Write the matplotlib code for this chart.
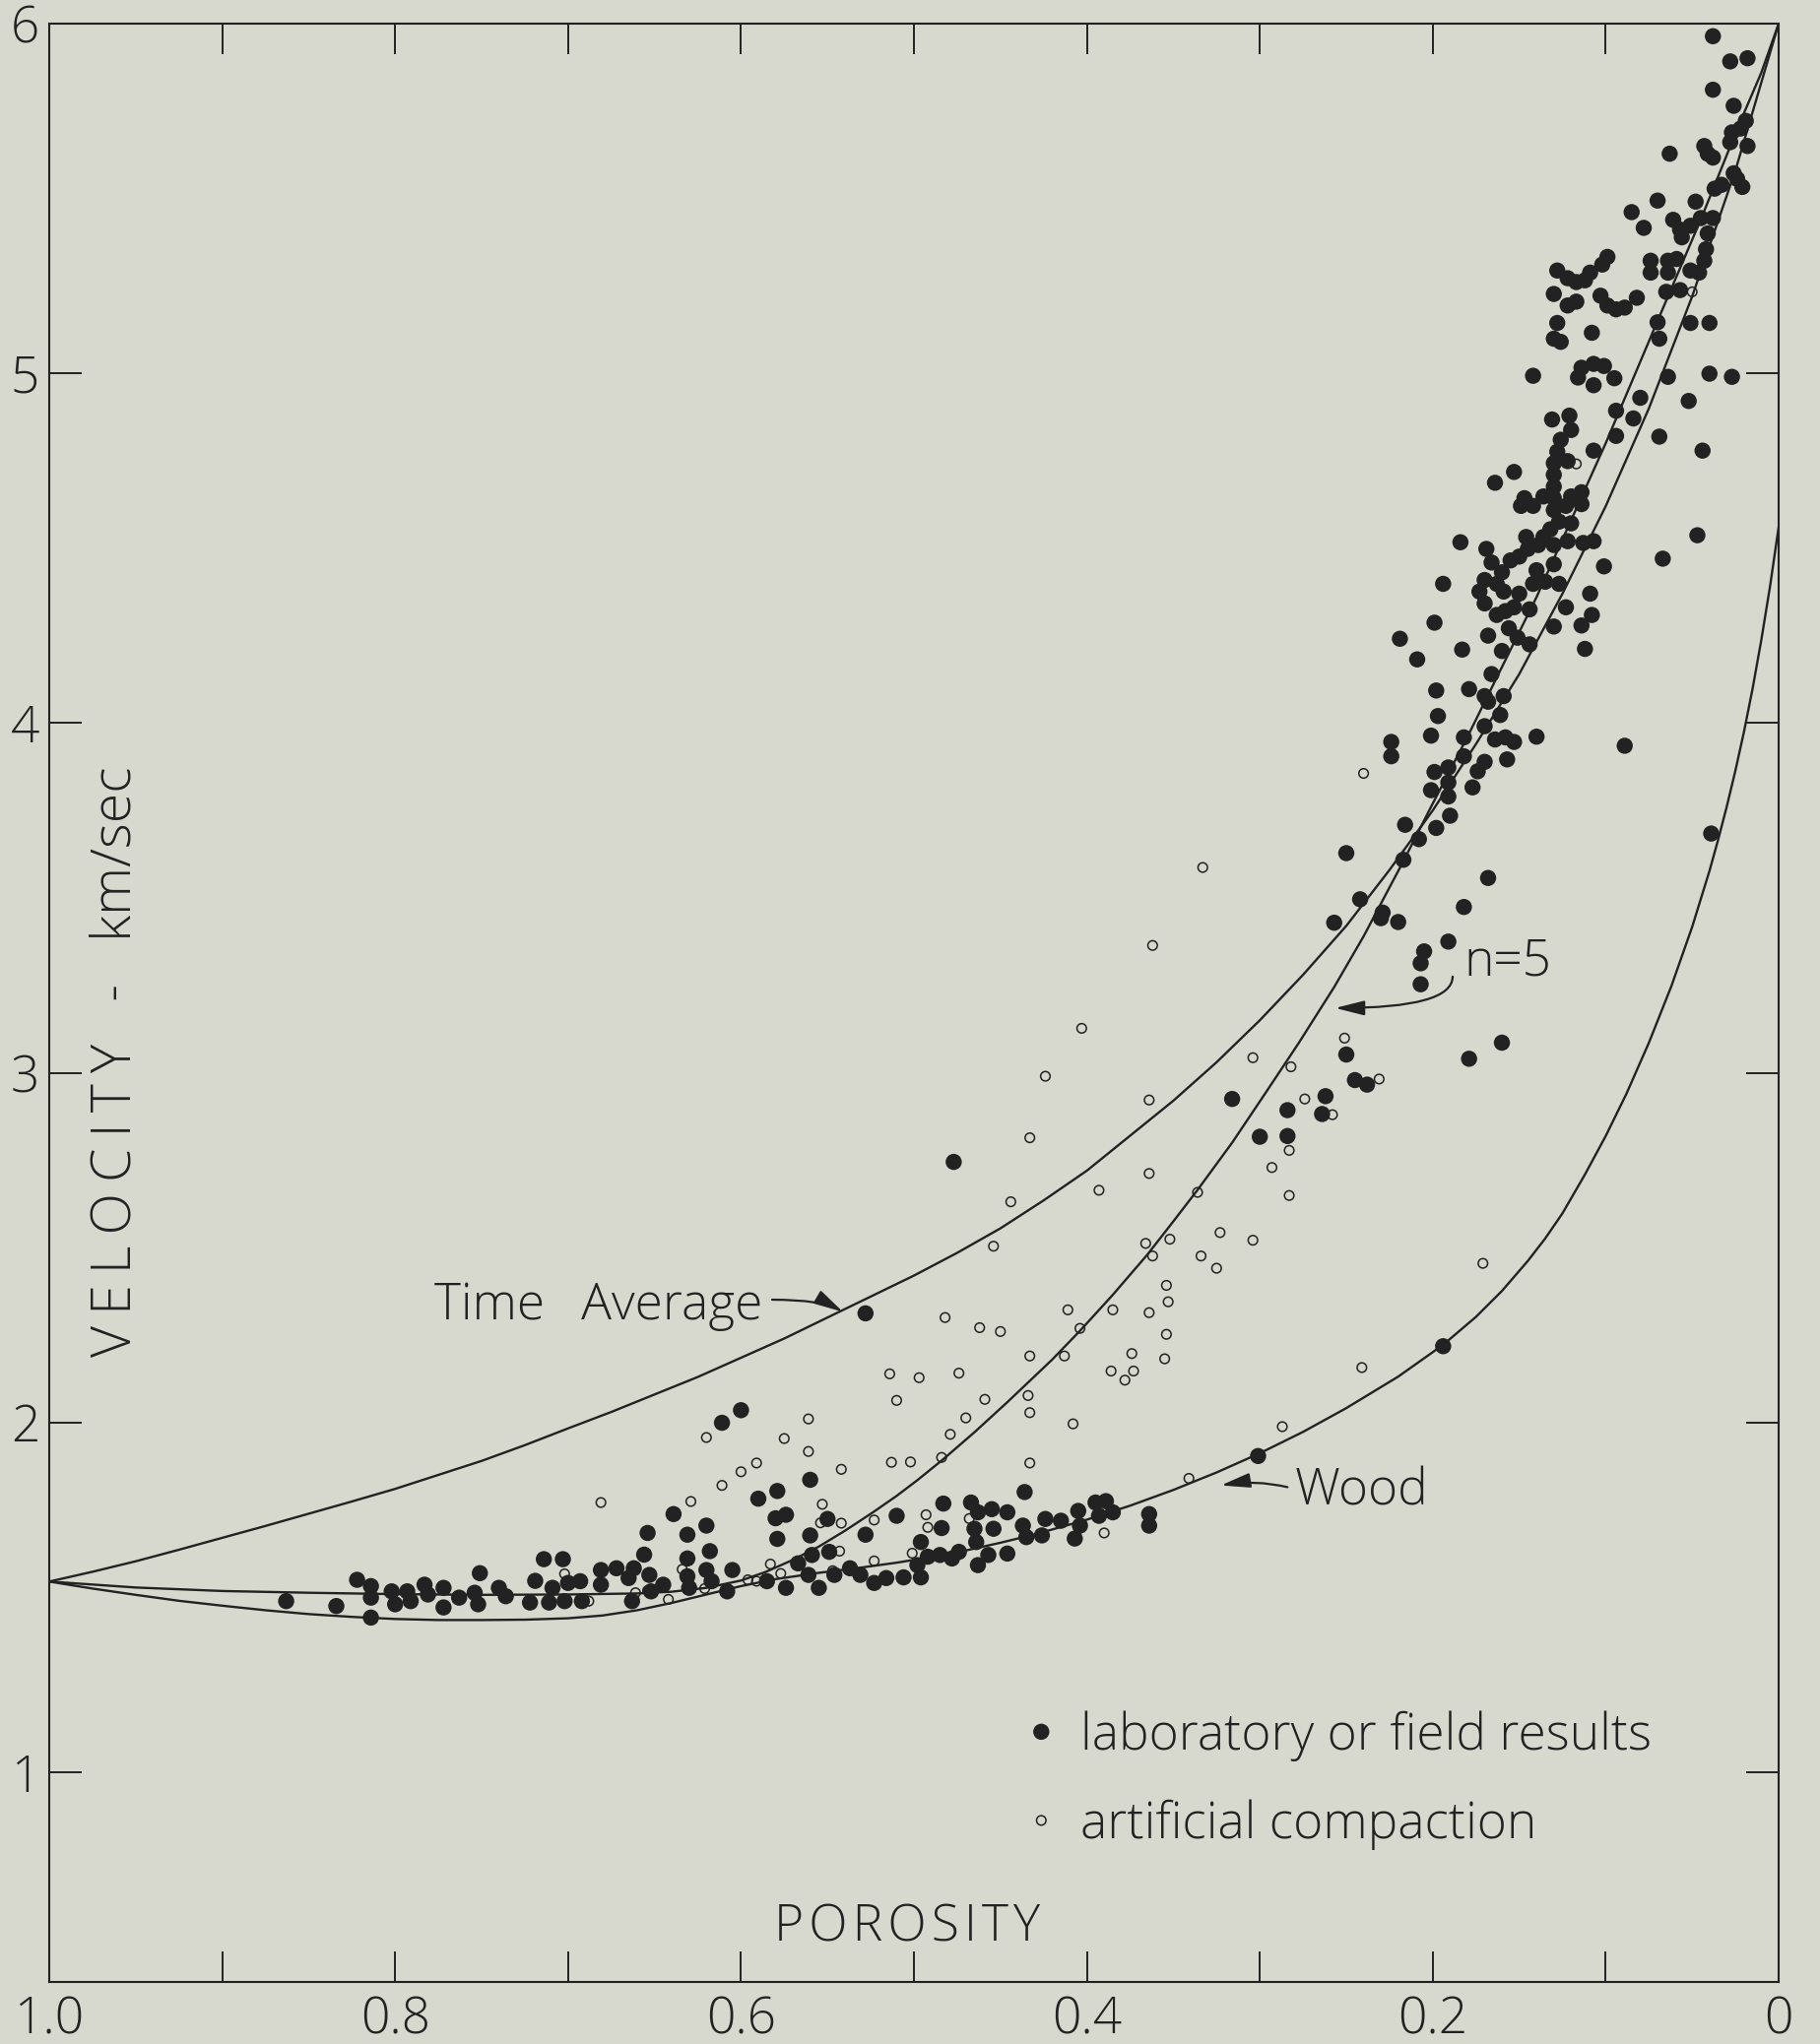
import numpy as np
import matplotlib
matplotlib.use('Agg')
import matplotlib.pyplot as plt

plt.rcParams['font.family'] = ['Open Sans', 'DejaVu Sans']
plt.rcParams['font.weight'] = 'light'

bg = '#d7d9cf'
ink = '#222222'

# curves (porosity, velocity km/sec)
ta_phi = [0.000, 0.025, 0.050, 0.075, 0.100, 0.125, 0.150, 0.175, 0.200, 0.225,
          0.250, 0.275, 0.300, 0.325, 0.350, 0.375, 0.400, 0.425, 0.450, 0.475,
          0.500, 0.525, 0.550, 0.575, 0.600, 0.625, 0.650, 0.675, 0.700, 0.725,
          0.750, 0.775, 0.800, 0.825, 0.850, 0.875, 0.900, 0.925, 0.950, 0.975,
          1.000]
ta_vel = [6.00, 5.58, 5.22, 4.90, 4.62, 4.37, 4.14, 3.94, 3.75, 3.58,
          3.42, 3.28, 3.15, 3.03, 2.92, 2.82, 2.72, 2.635, 2.555, 2.485,
          2.42, 2.36, 2.30, 2.24, 2.185, 2.13, 2.08, 2.03, 1.983, 1.935,
          1.89, 1.85, 1.81, 1.774, 1.739, 1.704, 1.67, 1.636, 1.603, 1.573,
          1.545]

n5_phi = [0.000, 0.010, 0.023, 0.045, 0.070, 0.100, 0.120, 0.140, 0.160, 0.180,
          0.200, 0.2175, 0.240, 0.257, 0.2775, 0.297, 0.316, 0.336, 0.350, 0.365,
          0.385, 0.404, 0.420, 0.446, 0.465, 0.483, 0.498, 0.510, 0.524, 0.540,
          0.555, 0.570, 0.586, 0.600, 0.620, 0.640, 0.660, 0.700, 0.750, 0.800,
          0.850, 0.900, 0.950, 1.000]
n5_vel = [6.00, 5.86, 5.71, 5.44, 5.15, 4.80, 4.58, 4.36, 4.16, 3.96,
          3.77, 3.60, 3.39, 3.245, 3.085, 2.94, 2.80, 2.665, 2.575, 2.48,
          2.365, 2.262, 2.18, 2.058, 1.972, 1.895, 1.835, 1.79, 1.742, 1.69,
          1.645, 1.607, 1.572, 1.548, 1.527, 1.516, 1.511, 1.508, 1.507, 1.509,
          1.513, 1.518, 1.528, 1.545]

wood_phi = [0.000, 0.005, 0.010, 0.015, 0.020, 0.025, 0.030, 0.035, 0.040, 0.050,
            0.062, 0.075, 0.088, 0.100, 0.112, 0.125, 0.135, 0.145, 0.160, 0.175,
            0.194, 0.220, 0.250, 0.275, 0.300, 0.325, 0.350, 0.375, 0.400, 0.430,
            0.450, 0.470, 0.490, 0.510, 0.535, 0.555, 0.580, 0.600, 0.620, 0.640,
            0.660, 0.680, 0.700, 0.725, 0.750, 0.775, 0.800, 0.825, 0.850, 0.875,
            0.900, 0.925, 0.950, 0.975, 1.000]
wood_vel = [4.560, 4.390, 4.238, 4.100, 3.976, 3.864, 3.761, 3.666, 3.577, 3.417,
            3.248, 3.086, 2.940, 2.819, 2.709, 2.598, 2.526, 2.462, 2.376, 2.302,
            2.222, 2.131, 2.041, 1.973, 1.912, 1.857, 1.807, 1.762, 1.722, 1.680,
            1.656, 1.634, 1.615, 1.599, 1.582, 1.570, 1.552, 1.532, 1.508, 1.484,
            1.463, 1.448, 1.440, 1.436, 1.435, 1.435, 1.438, 1.444, 1.452, 1.463,
            1.476, 1.490, 1.507, 1.525, 1.545]

# laboratory or field results (filled)
lab_pts = [
    [0.038, 5.964], [0.028, 5.892], [0.018, 5.901], [0.038, 5.811], [0.026, 5.765],
    [0.019, 5.722], [0.027, 5.689], [0.022, 5.700], [0.018, 5.650], [0.028, 5.661],
    [0.043, 5.650], [0.041, 5.628], [0.038, 5.617], [0.063, 5.628], [0.070, 5.494],
    [0.085, 5.461], [0.078, 5.416], [0.048, 5.491], [0.061, 5.439], [0.057, 5.411],
    [0.056, 5.389], [0.051, 5.422], [0.045, 5.444], [0.038, 5.444], [0.037, 5.528],
    [0.033, 5.539], [0.024, 5.556], [0.021, 5.533], [0.026, 5.572], [0.041, 5.400],
    [0.042, 5.355], [0.043, 5.322], [0.046, 5.288], [0.051, 5.294], [0.059, 5.327],
    [0.064, 5.322], [0.064, 5.288], [0.074, 5.322], [0.074, 5.288], [0.099, 5.333],
    [0.102, 5.311], [0.128, 5.294], [0.122, 5.272], [0.117, 5.261], [0.112, 5.266],
    [0.109, 5.288], [0.130, 5.227], [0.122, 5.194], [0.117, 5.205], [0.103, 5.222],
    [0.099, 5.194], [0.094, 5.183], [0.089, 5.188], [0.082, 5.216], [0.065, 5.233],
    [0.057, 5.238], [0.070, 5.146], [0.069, 5.099], [0.051, 5.144], [0.040, 5.144],
    [0.128, 5.144], [0.130, 5.099], [0.126, 5.090], [0.108, 5.116], [0.142, 4.993],
    [0.114, 5.016], [0.107, 5.027], [0.101, 5.021], [0.116, 4.988], [0.107, 4.966],
    [0.095, 4.986], [0.064, 4.990], [0.040, 4.999], [0.027, 4.990], [0.080, 4.930],
    [0.094, 4.893], [0.084, 4.871], [0.094, 4.821], [0.052, 4.921], [0.069, 4.819],
    [0.044, 4.779], [0.131, 4.868], [0.121, 4.879], [0.120, 4.838], [0.126, 4.810],
    [0.107, 4.779], [0.128, 4.776], [0.130, 4.743], [0.122, 4.749], [0.153, 4.718],
    [0.164, 4.687], [0.130, 4.710], [0.130, 4.676], [0.114, 4.660], [0.120, 4.648],
    [0.123, 4.621], [0.114, 4.626], [0.147, 4.643], [0.142, 4.621], [0.136, 4.648],
    [0.130, 4.643], [0.149, 4.621], [0.130, 4.609], [0.127, 4.576], [0.120, 4.571],
    [0.132, 4.554], [0.136, 4.532], [0.130, 4.509], [0.122, 4.520], [0.146, 4.532],
    [0.145, 4.498], [0.139, 4.509], [0.150, 4.476], [0.155, 4.465], [0.113, 4.515],
    [0.107, 4.520], [0.101, 4.448], [0.047, 4.537], [0.067, 4.470], [0.184, 4.517],
    [0.169, 4.498], [0.166, 4.459], [0.160, 4.431], [0.163, 4.398], [0.159, 4.376],
    [0.170, 4.409], [0.173, 4.376], [0.170, 4.342], [0.150, 4.370], [0.142, 4.398],
    [0.140, 4.437], [0.130, 4.454], [0.135, 4.404], [0.127, 4.398], [0.194, 4.398],
    [0.109, 4.370], [0.123, 4.331], [0.153, 4.331],
    [0.144, 4.325], [0.158, 4.320], [0.163, 4.309], [0.108, 4.309], [0.199, 4.287],
    [0.219, 4.241], [0.183, 4.210], [0.209, 4.182], [0.168, 4.250], [0.156, 4.271],
    [0.151, 4.244], [0.144, 4.225], [0.130, 4.276], [0.114, 4.279], [0.112, 4.212],
    [0.160, 4.206], [0.166, 4.140], [0.198, 4.093], [0.179, 4.097], [0.170, 4.077],
    [0.168, 4.061], [0.159, 4.077], [0.197, 4.020], [0.161, 4.023], [0.170, 3.991],
    [0.201, 3.964], [0.182, 3.959], [0.164, 3.953], [0.158, 3.959], [0.153, 3.946],
    [0.140, 3.961], [0.224, 3.946], [0.224, 3.905], [0.182, 3.905], [0.170, 3.889],
    [0.174, 3.862], [0.157, 3.896], [0.089, 3.935], [0.199, 3.860], [0.191, 3.873],
    [0.191, 3.830], [0.201, 3.808], [0.191, 3.790], [0.177, 3.816], [0.190, 3.735],
    [0.216, 3.709], [0.198, 3.700], [0.208, 3.668], [0.250, 3.628], [0.217, 3.609],
    [0.168, 3.557], [0.242, 3.496], [0.229, 3.458], [0.230, 3.442], [0.220, 3.431],
    [0.257, 3.429], [0.182, 3.474], [0.191, 3.375], [0.205, 3.347], [0.207, 3.313],
    [0.207, 3.253], [0.039, 3.684], [0.160, 3.086], [0.179, 3.040], [0.250, 3.052],
    [0.245, 2.979], [0.238, 2.966], [0.262, 2.933], [0.316, 2.925], [0.284, 2.893],
    [0.264, 2.882], [0.300, 2.817], [0.284, 2.819],
    [0.477, 2.745], [0.528, 2.312], [0.600, 2.035], [0.611, 1.999],
    [0.194, 2.218], [0.301, 1.904],
    [0.863, 1.489], [0.834, 1.475], [0.822, 1.550], [0.814, 1.532], [0.814, 1.499],
    [0.814, 1.442], [0.802, 1.517], [0.800, 1.480], [0.793, 1.517], [0.791, 1.489],
    [0.783, 1.536], [0.781, 1.508], [0.772, 1.527], [0.772, 1.471], [0.763, 1.499],
    [0.754, 1.513], [0.751, 1.569], [0.752, 1.480], [0.740, 1.527], [0.736, 1.503],
    [0.719, 1.547], [0.714, 1.609], [0.703, 1.609], [0.722, 1.485], [0.711, 1.485],
    [0.709, 1.527], [0.700, 1.541], [0.702, 1.489], [0.693, 1.546], [0.692, 1.489],
    [0.681, 1.578], [0.681, 1.536], [0.672, 1.583], [0.665, 1.555], [0.663, 1.489],
    [0.656, 1.622], [0.654, 1.684], [0.662, 1.583], [0.653, 1.564], [0.652, 1.517],
    [0.645, 1.536], [0.639, 1.738], [0.631, 1.679], [0.631, 1.611], [0.620, 1.705],
    [0.618, 1.632], [0.620, 1.578], [0.630, 1.527], [0.617, 1.546], [0.605, 1.578],
    [0.608, 1.517], [0.590, 1.782], [0.631, 1.560],
    [0.579, 1.804], [0.560, 1.836], [0.580, 1.726], [0.574, 1.736], [0.579, 1.667],
    [0.560, 1.677], [0.550, 1.724], [0.549, 1.630], [0.559, 1.621], [0.567, 1.597],
    [0.574, 1.527], [0.585, 1.546], [0.561, 1.564], [0.555, 1.527], [0.546, 1.564],
    [0.537, 1.583], [0.531, 1.564], [0.523, 1.541], [0.516, 1.555], [0.506, 1.557],
    [0.496, 1.557], [0.528, 1.679], [0.510, 1.733], [0.496, 1.658], [0.483, 1.768],
    [0.484, 1.698], [0.498, 1.592], [0.492, 1.616], [0.485, 1.621], [0.478, 1.611],
    [0.474, 1.630], [0.467, 1.771], [0.463, 1.743], [0.455, 1.752], [0.446, 1.743],
    [0.465, 1.696], [0.464, 1.658], [0.463, 1.592], [0.454, 1.696], [0.436, 1.801],
    [0.437, 1.705], [0.435, 1.672], [0.426, 1.677], [0.424, 1.724], [0.415, 1.719],
    [0.405, 1.747], [0.404, 1.705], [0.407, 1.668], [0.395, 1.771], [0.389, 1.775],
    [0.393, 1.733], [0.385, 1.743], [0.364, 1.738], [0.364, 1.705], [0.446, 1.625],
    [0.457, 1.621],
]

# artificial compaction (open)
art_pts = [
    [0.050, 5.233], [0.117, 4.741],
    [0.240, 3.856], [0.333, 3.587], [0.362, 3.364], [0.251, 3.099], [0.304, 3.043],
    [0.282, 3.017], [0.231, 2.982], [0.364, 2.922], [0.274, 2.925], [0.258, 2.880],
    [0.283, 2.778], [0.293, 2.729], [0.364, 2.712],
    [0.403, 3.127], [0.424, 2.990], [0.433, 2.814], [0.393, 2.664], [0.444, 2.631],
    [0.454, 2.504], [0.336, 2.658], [0.366, 2.512], [0.362, 2.476], [0.352, 2.524],
    [0.323, 2.543], [0.334, 2.476], [0.325, 2.441], [0.354, 2.392], [0.353, 2.345],
    [0.364, 2.314], [0.354, 2.252], [0.355, 2.182], [0.374, 2.197], [0.386, 2.147],
    [0.373, 2.147], [0.378, 2.121], [0.385, 2.322], [0.411, 2.322], [0.404, 2.269],
    [0.413, 2.190], [0.433, 2.190], [0.482, 2.300], [0.462, 2.271], [0.450, 2.260],
    [0.514, 2.139], [0.497, 2.128], [0.474, 2.141], [0.510, 2.063], [0.459, 2.066],
    [0.434, 2.077], [0.433, 2.028], [0.470, 2.013], [0.479, 1.966], [0.408, 1.996],
    [0.561, 2.010], [0.575, 1.954], [0.561, 1.917], [0.620, 1.957], [0.591, 1.884],
    [0.600, 1.859], [0.542, 1.866], [0.513, 1.886], [0.502, 1.887], [0.484, 1.900],
    [0.433, 1.884],
    [0.681, 1.771], [0.629, 1.774], [0.611, 1.820], [0.702, 1.567], [0.688, 1.489],
    [0.661, 1.513], [0.654, 1.519], [0.642, 1.494], [0.634, 1.580], [0.621, 1.525],
    [0.596, 1.550], [0.591, 1.546],
    [0.553, 1.766], [0.554, 1.713], [0.542, 1.712], [0.543, 1.632], [0.523, 1.721],
    [0.523, 1.604], [0.493, 1.736], [0.492, 1.700], [0.501, 1.626], [0.468, 1.725],
    [0.583, 1.595], [0.577, 1.568], [0.547, 1.576], [0.390, 1.684], [0.341, 1.840],
    [0.283, 2.649], [0.304, 2.521], [0.241, 2.157], [0.171, 2.455], [0.287, 1.988],
]

x_ticks = [0.0, 0.1, 0.2, 0.3, 0.4, 0.5, 0.6, 0.7, 0.8, 0.9, 1.0]
x_ticklabels = ['0', '', '0.2', '', '0.4', '', '0.6', '', '0.8', '', '1.0']
y_ticks = [1, 2, 3, 4, 5, 6]
y_ticklabels = ['1', '2', '3', '4', '5', '6']

lab_pts = np.array(lab_pts)
art_pts = np.array(art_pts)

fig = plt.figure(figsize=(18.48, 20.76), dpi=100, facecolor=bg)
ax = fig.add_axes([50 / 1848, 1 - 2013 / 2076, 1756 / 1848, 1989 / 2076])
ax.set_facecolor(bg)

ax.plot(ta_phi, ta_vel, color=ink, lw=1.7, zorder=2)
ax.plot(n5_phi, n5_vel, color=ink, lw=1.7, zorder=2)
ax.plot(wood_phi, wood_vel, color=ink, lw=1.7, zorder=2)

ax.scatter(lab_pts[:, 0], lab_pts[:, 1], s=140, color=ink, edgecolors='none',
           zorder=3, label='laboratory or field results')
ax.scatter(art_pts[:, 0], art_pts[:, 1], s=48, facecolors='none', edgecolors=ink,
           linewidths=1.1, zorder=3, label='artificial compaction')

ax.set_xlim(1.0, 0.0)
ax.set_ylim(0.4, 6.0)
ax.set_xticks(x_ticks)
ax.set_xticklabels(x_ticklabels)
ax.set_yticks(y_ticks)
ax.set_yticklabels(y_ticklabels)
ax.tick_params(direction='in', top=True, right=True, width=1.4, colors=ink,
               labelsize=37)
ax.tick_params(axis='x', length=22, pad=9)
ax.tick_params(axis='y', length=24, pad=7)
for sp in ax.spines.values():
    sp.set_linewidth(1.5)
    sp.set_color(ink)

fs = 37
thin = '\u2009'
hair = '\u200a'
ylab = thin.join('VELOCITY') + '   -   ' + 'km/sec'
ax.text(0.039, 0.47, ylab, transform=ax.transAxes, rotation=90,
        ha='center', va='center', fontsize=40, color=ink)
ax.text(0.504, 0.517, hair.join('POROSITY'), ha='center', va='baseline',
        fontsize=fs, color=ink)

ax.text(0.5875, 2.296, 'Time  ' + thin + 'Average', ha='right', va='baseline',
        fontsize=fs, color=ink)
ax.annotate('', xy=(0.541, 2.316), xytext=(0.582, 2.351),
            arrowprops=dict(arrowstyle='-|>,head_length=0.6,head_width=0.15',
                            connectionstyle='angle3,angleA=0,angleB=-30',
                            color=ink, lw=1.6, mutation_scale=30,
                            shrinkA=0, shrinkB=0))

ax.text(0.182, 3.28, 'n=5', ha='left', va='baseline', fontsize=fs, color=ink)
ax.annotate('', xy=(0.2565, 3.185), xytext=(0.1885, 3.275),
            arrowprops=dict(arrowstyle='-|>,head_length=0.6,head_width=0.15',
                            connectionstyle='angle3,angleA=90,angleB=0',
                            color=ink, lw=1.6, mutation_scale=30,
                            shrinkA=0, shrinkB=0))

ax.text(0.2798, 1.764, 'Wood', ha='left', va='baseline', fontsize=fs, color=ink)
ax.annotate('', xy=(0.3225, 1.82), xytext=(0.284, 1.815),
            arrowprops=dict(arrowstyle='-|>,head_length=0.6,head_width=0.15',
                            connectionstyle='arc3,rad=0.1',
                            color=ink, lw=1.6, mutation_scale=30,
                            shrinkA=0, shrinkB=0))

ax.legend(loc='center left', bbox_to_anchor=(0.559, 0.103), frameon=False,
          fontsize=fs, scatterpoints=1, scatteryoffsets=[0.5], handlelength=1.0,
          handletextpad=0.28, borderpad=0, borderaxespad=0, labelspacing=0.75,
          labelcolor=ink)

fig.savefig('out.png', dpi=100, facecolor=bg)
